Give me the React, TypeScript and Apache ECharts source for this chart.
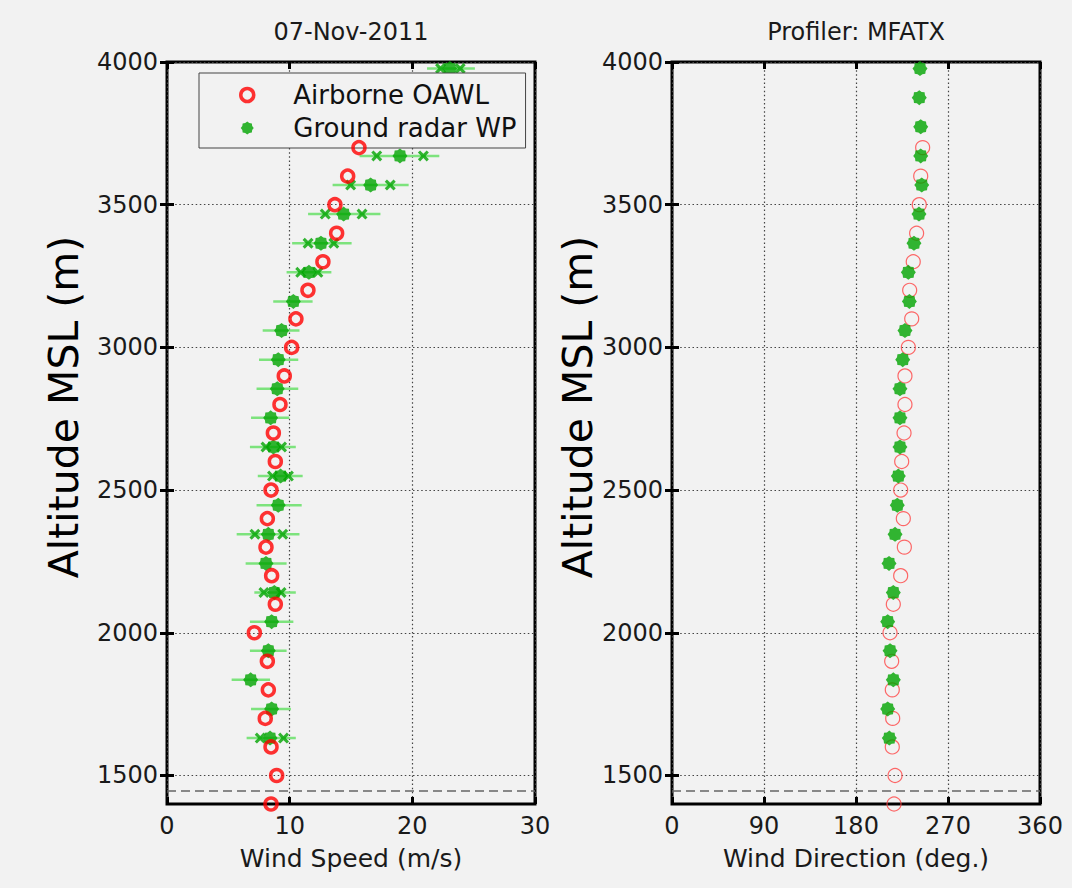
import React, { useEffect, useRef } from 'react';
import * as echarts from 'echarts';

// ---------- Data ----------
const oawlAlt = [1400, 1500, 1600, 1700, 1800, 1900, 2000, 2100, 2200, 2300, 2400, 2500, 2600, 2700, 2800, 2900, 3000, 3100, 3200, 3300, 3400, 3500, 3600, 3700];
const oawlSpeed = [8.48, 8.94, 8.48, 8.01, 8.26, 8.18, 7.12, 8.83, 8.53, 8.07, 8.18, 8.48, 8.83, 8.67, 9.21, 9.56, 10.16, 10.51, 11.49, 12.71, 13.83, 13.69, 14.73, 15.65];
const oawlDir = [217.2, 218.2, 215.5, 215.9, 215.5, 214.9, 213.3, 216.5, 223.7, 227.3, 226.3, 223.7, 224.7, 227.0, 227.9, 227.9, 231.2, 234.5, 232.5, 236.0, 239.3, 241.9, 243.3, 245.2];

const wpAlt = [1631, 1733, 1835, 1937, 2039, 2141, 2243, 2345, 2447, 2549, 2651, 2753, 2855, 2957, 3059, 3161, 3263, 3365, 3467, 3569, 3671, 3773, 3875, 3977];
const wpSpeed = [8.4, 8.53, 6.82, 8.26, 8.53, 8.75, 8.07, 8.26, 9.07, 9.26, 8.67, 8.45, 8.99, 9.07, 9.34, 10.3, 11.57, 12.55, 14.4, 16.6, 18.99, null, null, 23.06];
const wpSpeedLo = [6.49, 6.85, 5.27, 6.76, 6.76, 7.12, 6.41, 5.68, 7.3, 7.4, 6.76, 6.85, 7.3, 7.5, 7.8, 8.66, 9.75, 10.2, 11.5, 13.5, 15.7, null, null, 21.2];
const wpSpeedHi = [10.5, 10.1, 8.4, 9.75, 10.3, 10.5, 9.75, 10.8, 10.98, 11.06, 10.5, 9.97, 10.7, 10.7, 10.8, 11.87, 13.4, 15.05, 17.4, 19.7, 22.2, null, null, 25.1];
const wpSampleLo = [7.6, null, null, null, null, 7.9, null, 7.17, null, 8.6, 8.07, null, null, null, null, null, 10.9, 11.5, 12.9, 14.97, 17.1, null, null, 22.3];
const wpSampleHi = [9.5, null, null, null, null, 9.3, null, 9.43, null, 9.9, 9.34, null, null, null, null, null, 12.3, 13.6, 15.9, 18.2, 20.9, null, null, 23.9];
const wpDir = [212.6, 211.0, 216.5, 213.3, 211.0, 216.5, 212.3, 218.2, 220.4, 221.4, 223.0, 223.0, 223.0, 225.7, 227.9, 232.2, 231.2, 236.7, 241.6, 244.3, 243.3, 243.3, 241.9, 242.6];

const groundAlt = 1445;
const altTicks = [1500, 2000, 2500, 3000, 3500, 4000];
const titles = ['07-Nov-2011', 'Profiler: MFATX'];
const xNames = ['Wind Speed (m/s)', 'Wind Direction (deg.)'];
const yName = 'Altitude MSL (m)';
const seriesNames = ['Airborne OAWL', 'Ground radar WP'];

// ---------- Styling helpers ----------
const FONT = '"DejaVu Sans", sans-serif';
const BG = '#f2f2f2';
const RED = '#ff0000';
const GREEN = '#00a400';
const LIGHTGREEN = '#7de37d';

function blobPath(): string {
  const pts: string[] = [];
  for (let i = 0; i < 16; i++) {
    const a = (i * Math.PI) / 8;
    const r = i % 2 === 0 ? 10 : 8.2;
    pts.push(`${(10 + r * Math.cos(a)).toFixed(2)},${(10 + r * Math.sin(a)).toFixed(2)}`);
  }
  return 'path://M' + pts.join('L') + 'Z';
}
const BLOB = blobPath();
const XMARK = 'path://M2,0L5,3L8,0L10,2L7,5L10,8L8,10L5,7L2,10L0,8L3,5L0,2Z';

const zip = (xs: (number | null)[], ys: number[]) =>
  xs.map((x, i) => [x, ys[i]]).filter((p) => p[0] !== null);

const gridLine = { show: true, lineStyle: { color: '#444', width: 1.2, type: [1.5, 2.6] as any } };
const tickStyle = { show: true, inside: true, length: 7, lineStyle: { color: '#000', width: 3 } };
const plain = (v: number) => String(v);

function xAxes(grid: number, max: number, interval: number, name: string) {
  return [
    {
      type: 'value', gridIndex: grid, min: 0, max, interval, position: 'bottom',
      axisLine: { show: false }, axisTick: tickStyle, splitLine: gridLine,
      axisLabel: { fontFamily: FONT, fontSize: 24, color: '#1a1a1a', margin: 10, formatter: plain },
      name, nameLocation: 'middle', nameGap: 42,
      nameTextStyle: { fontFamily: FONT, fontSize: 25, color: '#1a1a1a' },
    },
    {
      type: 'value', gridIndex: grid, min: 0, max, interval, position: 'top',
      axisLine: { show: false }, axisTick: tickStyle, splitLine: { show: false },
      axisLabel: { show: false },
    },
  ];
}

function yAxes(grid: number) {
  return [
    {
      type: 'value', gridIndex: grid, min: 1400, max: 4000, position: 'left',
      axisLine: { show: false },
      axisTick: { ...tickStyle, customValues: altTicks },
      splitLine: gridLine,
      axisLabel: { customValues: altTicks, fontFamily: FONT, fontSize: 24, color: '#1a1a1a', margin: 9, formatter: plain },
    },
    {
      type: 'value', gridIndex: grid, min: 1400, max: 4000, position: 'right',
      axisLine: { show: false },
      axisTick: { ...tickStyle, customValues: altTicks },
      splitLine: { show: false },
      axisLabel: { show: false, customValues: altTicks },
    },
  ];
}

const groundLine = {
  silent: true,
  symbol: 'none',
  label: { show: false },
  lineStyle: { color: '#666', width: 1.5, type: [9, 5] as any },
  data: [{ yAxis: groundAlt }],
};

export default function App() {
  const ref = useRef<HTMLDivElement>(null);

  useEffect(() => {
    if (!ref.current) return;
    const chart = echarts.init(ref.current, null, { renderer: 'svg' });

    const errData = wpAlt
      .map((a, i) => [wpSpeedLo[i], wpSpeedHi[i], a])
      .filter((d) => d[0] !== null);
    const sampleData = [...zip(wpSampleLo, wpAlt), ...zip(wpSampleHi, wpAlt)];

    const option: any = {
      animation: false,
      backgroundColor: BG,
      title: [
        { text: titles[0], left: 351, top: 20, textAlign: 'center', padding: 0,
          textStyle: { fontFamily: FONT, fontSize: 24, fontWeight: 'normal', color: '#1a1a1a' } },
        { text: titles[1], left: 856, top: 20, textAlign: 'center', padding: 0,
          textStyle: { fontFamily: FONT, fontSize: 24, fontWeight: 'normal', color: '#1a1a1a' } },
      ],
      grid: [
        { left: 167, top: 62, width: 368, height: 742, show: true, borderColor: '#000', borderWidth: 3, backgroundColor: BG },
        { left: 672, top: 62, width: 368, height: 742, show: true, borderColor: '#000', borderWidth: 3, backgroundColor: BG },
      ],
      xAxis: [...xAxes(0, 30, 10, xNames[0]), ...xAxes(1, 360, 90, xNames[1])],
      yAxis: [...yAxes(0), ...yAxes(1)],
      legend: {
        data: [
          { name: seriesNames[0], icon: 'circle', itemStyle: { color: 'rgba(0,0,0,0)', borderColor: RED, borderWidth: 3.5 } },
          { name: seriesNames[1], icon: BLOB, itemStyle: { color: GREEN, borderWidth: 0 } },
        ],
        left: 199, top: 73, orient: 'vertical',
        itemWidth: 82, itemHeight: 13, itemGap: 7,
        padding: [9, 9, 7, 40],
        backgroundColor: BG, borderColor: '#444', borderWidth: 1,
        selectedMode: false,
        textStyle: { fontFamily: FONT, fontSize: 26, color: '#111', lineHeight: 26 },
      },
      graphic: [
        { type: 'text', x: 64, y: 407, rotation: Math.PI / 2,
          style: { text: yName, font: `41px ${FONT}`, fill: '#000', align: 'center', verticalAlign: 'middle' } },
        { type: 'text', x: 578, y: 407, rotation: Math.PI / 2,
          style: { text: yName, font: `41px ${FONT}`, fill: '#000', align: 'center', verticalAlign: 'middle' } },
      ],
      series: [
        {
          name: 'WP spread', type: 'custom', xAxisIndex: 0, yAxisIndex: 0,
          coordinateSystem: 'cartesian2d', encode: { x: [0, 1], y: 2 },
          data: errData, silent: true, z: 2,
          renderItem: (_p: any, api: any) => {
            const a = api.coord([api.value(0), api.value(2)]);
            const b = api.coord([api.value(1), api.value(2)]);
            return { type: 'line', shape: { x1: a[0], y1: a[1], x2: b[0], y2: b[1] },
              style: { stroke: LIGHTGREEN, lineWidth: 2.5 } };
          },
        },
        {
          name: 'WP samples', type: 'scatter', xAxisIndex: 0, yAxisIndex: 0,
          data: sampleData, symbol: XMARK, symbolSize: 11, itemStyle: { color: GREEN }, z: 3, silent: true,
        },
        {
          name: seriesNames[1], type: 'scatter', xAxisIndex: 0, yAxisIndex: 0,
          data: zip(wpSpeed, wpAlt), symbol: BLOB, symbolSize: 15, itemStyle: { color: GREEN }, z: 3, silent: true,
        },
        {
          name: seriesNames[0], type: 'scatter', xAxisIndex: 0, yAxisIndex: 0,
          data: zip(oawlSpeed, oawlAlt), symbol: 'circle', symbolSize: 12,
          itemStyle: { color: 'rgba(0,0,0,0)', borderColor: RED, borderWidth: 3.5 }, z: 4, silent: true,
          markLine: groundLine,
        },
        {
          name: seriesNames[0], type: 'scatter', xAxisIndex: 2, yAxisIndex: 2,
          data: zip(oawlDir, oawlAlt), symbol: 'circle', symbolSize: 14,
          itemStyle: { color: 'rgba(0,0,0,0)', borderColor: '#ff4444', borderWidth: 1.2 }, z: 3, silent: true,
          markLine: groundLine,
        },
        {
          name: seriesNames[1], type: 'scatter', xAxisIndex: 2, yAxisIndex: 2,
          data: zip(wpDir, wpAlt), symbol: BLOB, symbolSize: 15, itemStyle: { color: GREEN }, z: 4, silent: true,
        },
      ],
    };

    chart.setOption(option);
    return () => chart.dispose();
  }, []);

  return (
    <div
      ref={ref}
      style={{ position: 'fixed', left: 0, top: 0, width: 1072, height: 888, background: BG }}
    />
  );
}
